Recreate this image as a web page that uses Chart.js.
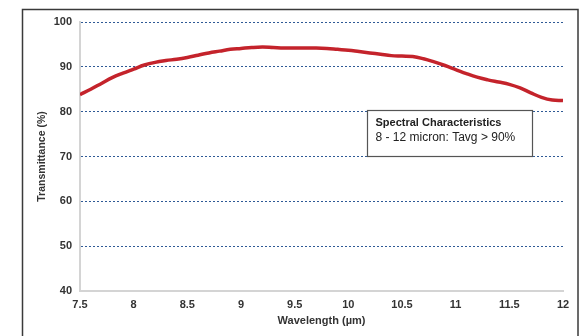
<!DOCTYPE html>
<html>
<head>
<meta charset="utf-8">
<script src="https://cdn.jsdelivr.net/npm/chart.js@4.4.1/dist/chart.umd.min.js"></script>
<style>
	html, body { margin: 0; padding: 0; background: #fff; }
	#wrap { width: 588px; height: 336px; }
</style>
</head>
<body>
<div id="wrap"><canvas id="chart-area" width="588" height="336"></canvas></div>
<script>
// wavelength (um) and transmittance (%)
var wavelength = [7.5, 7.6, 7.7, 7.8, 7.9, 8.0, 8.1, 8.2, 8.3, 8.4, 8.5, 8.6, 8.7, 8.8, 8.9,
	9.0, 9.1, 9.2, 9.3, 9.4, 9.5, 9.6, 9.7, 9.8, 9.9, 10.0, 10.1, 10.2, 10.3, 10.4,
	10.5, 10.6, 10.7, 10.8, 10.9, 11.0, 11.1, 11.2, 11.3, 11.4, 11.5, 11.6, 11.7, 11.8, 11.9, 12.0];
var transmittance = [83.8, 85.0, 86.3, 87.6, 88.6, 89.5, 90.4, 91.0, 91.4, 91.7, 92.1, 92.6, 93.1, 93.5, 93.9,
	94.1, 94.3, 94.4, 94.3, 94.2, 94.2, 94.2, 94.2, 94.1, 93.9, 93.7, 93.4, 93.1, 92.8, 92.5,
	92.4, 92.3, 91.8, 91.1, 90.3, 89.4, 88.5, 87.7, 87.1, 86.6, 86.1, 85.3, 84.2, 83.2, 82.6, 82.5];
var xTicks = [7.5, 8, 8.5, 9, 9.5, 10, 10.5, 11, 11.5, 12];
var yTicks = [40, 50, 60, 70, 80, 90, 100];
var noteLines = ['Spectral Characteristics', '8 - 12 micron: Tavg > 90%'];
// note box corners in data units [x1, x2, y1, y2]
var noteBox = [10.17, 11.71, 80.3, 70.2];

var points = [];
for (var i = 0; i < wavelength.length; i++) {
	points.push({x: wavelength[i], y: transmittance[i]});
}

var fontFamily = '"Liberation Sans", Arial, sans-serif';

// outer frame round the whole chart
var framePlugin = {
	id: 'frame',
	beforeDraw: function (chart) {
		var ctx = chart.ctx;
		ctx.save();
		ctx.fillStyle = '#fff';
		ctx.fillRect(0, 0, chart.width, chart.height);
		ctx.strokeStyle = '#3a3a3a';
		ctx.lineWidth = 1.5;
		ctx.strokeRect(22.5, 9.5, 555.5, 340);
		ctx.restore();
	}
};

// text box with the spectral note
var notePlugin = {
	id: 'note',
	afterDatasetsDraw: function (chart) {
		var ctx = chart.ctx;
		var xs = chart.scales.x, ys = chart.scales.y;
		var x1 = Math.round(xs.getPixelForValue(noteBox[0])) + 0.5;
		var x2 = Math.round(xs.getPixelForValue(noteBox[1])) + 0.5;
		var y1 = Math.round(ys.getPixelForValue(noteBox[2])) + 0.5;
		var y2 = Math.round(ys.getPixelForValue(noteBox[3])) + 0.5;
		ctx.save();
		ctx.fillStyle = '#fff';
		ctx.fillRect(x1, y1, x2 - x1, y2 - y1);
		ctx.strokeStyle = '#555';
		ctx.lineWidth = 1.2;
		ctx.strokeRect(x1, y1, x2 - x1, y2 - y1);
		ctx.fillStyle = '#222';
		ctx.textBaseline = 'middle';
		ctx.textAlign = 'left';
		ctx.font = 'bold 11px ' + fontFamily;
		ctx.fillText(noteLines[0], x1 + 8, y1 + 12);
		ctx.font = '12px ' + fontFamily;
		ctx.fillText(noteLines[1], x1 + 8, y1 + 27);
		ctx.restore();
	}
};

var config = {
	type: 'line',
	data: {
		datasets: [{
			data: points,
			borderColor: '#c4232b',
			borderWidth: 3.5,
			pointRadius: 0,
			tension: 0.4,
			fill: false
		}]
	},
	options: {
		responsive: false,
		animation: false,
		layout: {
			padding: {left: 36, right: 25, top: 22, bottom: 0}
		},
		plugins: {
			legend: {display: false},
			tooltip: {enabled: false}
		},
		scales: {
			x: {
				type: 'linear',
				min: 7.5,
				max: 12,
				afterBuildTicks: function (axis) {
					axis.ticks = xTicks.map(function (v) { return {value: v}; });
				},
				afterFit: function (axis) { axis.height = 45; },
				grid: {display: false, drawTicks: false},
				border: {display: true, color: '#d4d4d4', width: 2},
				ticks: {
					padding: 7,
					color: '#333',
					maxRotation: 0,
					font: {family: fontFamily, size: 11, weight: 'bold'},
					callback: function (v) { return String(v); }
				},
				title: {
					display: true,
					text: 'Wavelength (µm)',
					color: '#333',
					padding: {top: 2, bottom: 8},
					font: {family: fontFamily, size: 11, weight: 'bold'}
				}
			},
			y: {
				min: 40,
				max: 100,
				afterBuildTicks: function (axis) {
					axis.ticks = yTicks.map(function (v) { return {value: v}; });
				},
				afterFit: function (axis) { axis.width = 44; },
				grid: {
					drawTicks: false,
					lineWidth: 1,
					color: function (c) {
						return c.tick && c.tick.value === 40 ? 'rgba(0,0,0,0)' : '#2f5a96';
					}
				},
				border: {display: true, color: '#d4d4d4', width: 2, dash: [2, 2]},
				ticks: {
					padding: 8,
					color: '#333',
					font: {family: fontFamily, size: 11, weight: 'bold'}
				},
				title: {
					display: true,
					text: 'Transmittance (%)',
					color: '#333',
					padding: {top: 0, bottom: 0},
					font: {family: fontFamily, size: 10.5, weight: 'bold'}
				}
			}
		}
	},
	plugins: [framePlugin, notePlugin]
};

var ctx = document.getElementById('chart-area');
var myLineChart = new Chart(ctx, config);
</script>
</body>
</html>
